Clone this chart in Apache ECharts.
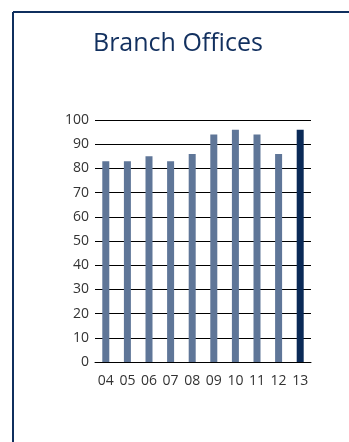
<!DOCTYPE html>
<html>
<head>
<meta charset="utf-8">
<style>
  html, body { margin: 0; padding: 0; background: #ffffff; }
  #chart { width: 349px; height: 442px; }
</style>
<script src="https://cdn.jsdelivr.net/npm/echarts@6/dist/echarts.min.js"></script>
</head>
<body>
<div id="chart"></div>
<script>
// Number of branch offices per year
const years = ['04', '05', '06', '07', '08', '09', '10', '11', '12', '13'];
const offices = [83, 83, 85, 83, 86, 94, 96, 94, 86, 96];
const yTicks = { min: 0, max: 100, interval: 10 };

const baseColor = '#5f7698';
const highlightColor = '#0b2a57';
const frameColor = '#0f2f5e';

const chart = echarts.init(document.getElementById('chart'), null, { renderer: 'canvas' });

chart.setOption({
  animation: false,
  backgroundColor: '#ffffff',
  textStyle: { fontFamily: 'Open Sans' },
  title: {
    text: 'Branch Offices',
    left: 93,
    top: 31,
    padding: 0,
    textStyle: { fontFamily: 'Open Sans', fontSize: 25, fontWeight: 'normal', color: '#12305f' }
  },
  graphic: [
    { type: 'line', shape: { x1: 13, y1: 12, x2: 349, y2: 12 }, style: { stroke: frameColor, lineWidth: 2 } },
    { type: 'line', shape: { x1: 13, y1: 12, x2: 13, y2: 442 }, style: { stroke: frameColor, lineWidth: 2 } }
  ],
  grid: { left: 95, right: 38, top: 120, bottom: 80 },
  xAxis: {
    type: 'category',
    data: years,
    axisLine: { show: true, lineStyle: { color: '#000000', width: 1 } },
    axisTick: { show: false },
    axisLabel: { color: '#333333', fontSize: 14, margin: 12, interval: 0 }
  },
  yAxis: {
    type: 'value',
    min: yTicks.min,
    max: yTicks.max,
    interval: yTicks.interval,
    axisLine: { show: false },
    axisTick: { show: false },
    axisLabel: { color: '#333333', fontSize: 14, margin: 6 },
    splitLine: { show: true, lineStyle: { color: '#000000', width: 1 } }
  },
  series: [{
    type: 'bar',
    barWidth: 7,
    data: offices.map((v, i) => ({
      value: v,
      itemStyle: { color: i === offices.length - 1 ? highlightColor : baseColor }
    }))
  }]
});
</script>
</body>
</html>
